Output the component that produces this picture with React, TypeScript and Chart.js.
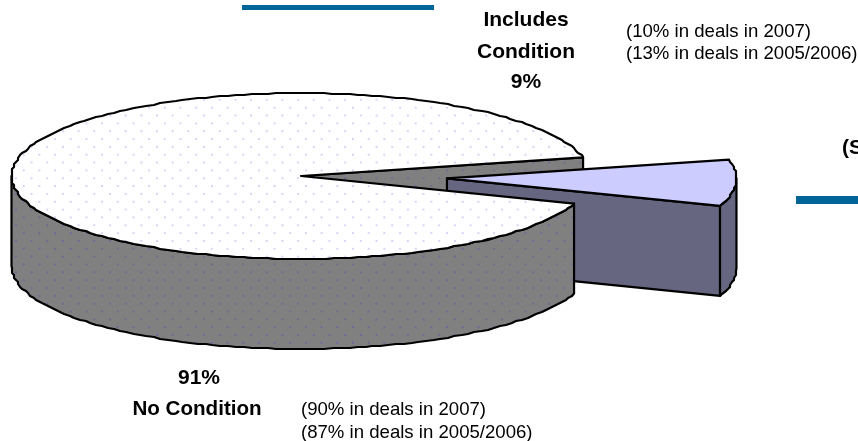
import React, { useEffect, useRef } from "react";
import { Chart, registerables } from "chart.js";

Chart.register(...registerables);

const sliceNames = ["Includes Condition", "No Condition"];
const sliceValues = [9, 91];
const sliceColors = ["#ccccff", "#ffffff"];
const wallColors = ["#666680", "#808080"];
const explodeRatios = [0.505, 0];

const includesLines = ["Includes", "Condition", "9%"];
const includesNotes = ["(10% in deals in 2007)", "(13% in deals in 2005/2006)"];
const noConditionLines = ["91%", "No Condition"];
const noConditionNotes = ["(90% in deals in 2007)", "(87% in deals in 2005/2006)"];
const clippedHeading = "(S";

const CX = 301;
const CY = 176;
const RX = 289.5;
const RY = 83;
const DEPTH = 90;

type Pt = [number, number];

function makePattern(ctx: CanvasRenderingContext2D, color: string) {
  const tile = document.createElement("canvas");
  tile.width = 16;
  tile.height = 16;
  const t = tile.getContext("2d")!;
  t.fillStyle = color;
  t.fillRect(3, 3, 2, 2);
  t.fillRect(11, 11, 2, 2);
  const p = ctx.createPattern(tile, "repeat")!;
  p.setTransform(new DOMMatrix([0.98, 0, 0, 0.98, 106, 237]));
  return p;
}

const pie3dPlugin = {
  id: "pie3d",
  beforeDatasetDraw(chart: any) {
    const ctx: CanvasRenderingContext2D = chart.ctx;
    const arcs = chart.getDatasetMeta(0).data as any[];
    const apex = (i: number): Pt => {
      const mid = (arcs[i].startAngle + arcs[i].endAngle) / 2;
      return [
        CX + RX * explodeRatios[i] * Math.cos(mid),
        CY + RY * explodeRatios[i] * Math.sin(mid),
      ];
    };
    const rim = (i: number, from: number, to: number, dy = 0): Pt[] => {
      const [ax, ay] = apex(i);
      const n = Math.max(1, Math.round(Math.abs(to - from) / 0.028));
      const pts: Pt[] = [];
      for (let k = 0; k <= n; k++) {
        const a = from + ((to - from) * k) / n;
        let x = ax + RX * Math.cos(a);
        let y = ay + RY * Math.sin(a);
        if (k > 0 && k < n) {
          x = Math.round(x / 2) * 2;
          y = Math.round(y);
        }
        pts.push([x, y + dy]);
      }
      return pts;
    };
    const paint = (pts: Pt[], fill: any, pattern?: any, stroke = true) => {
      ctx.beginPath();
      pts.forEach((p, k) => (k ? ctx.lineTo(p[0], p[1]) : ctx.moveTo(p[0], p[1])));
      ctx.closePath();
      if (fill) {
        ctx.fillStyle = fill;
        ctx.fill();
      }
      if (pattern) {
        ctx.fillStyle = pattern;
        ctx.fill();
      }
      if (stroke) {
        ctx.lineWidth = 2.2;
        ctx.lineJoin = "round";
        ctx.strokeStyle = "#000000";
        ctx.stroke();
      }
    };
    const flat = (pts: Pt[], dy: number): Pt[] => pts.map((p) => [p[0], p[1] + dy] as Pt);

    const topDots = makePattern(ctx, "#d4d4fa");
    const wallDots = makePattern(ctx, "#6c6c98");
    const slice = arcs[0];
    const main = arcs[1];

    const mainApex = apex(1);
    const upperEdge = rim(1, main.endAngle, main.endAngle)[0];
    paint(
      [mainApex, upperEdge, [upperEdge[0], upperEdge[1] + DEPTH], [mainApex[0], mainApex[1] + DEPTH]],
      wallColors[1],
      wallDots
    );

    const sliceApex = apex(0);
    const lowerCorner = rim(0, slice.endAngle, slice.endAngle)[0];
    paint(
      [sliceApex, lowerCorner, [lowerCorner[0], lowerCorner[1] + DEPTH], [sliceApex[0], sliceApex[1] + DEPTH]],
      wallColors[0]
    );
    const sliceOuter = rim(0, slice.endAngle, 0);
    paint([...sliceOuter, ...flat(sliceOuter, DEPTH).reverse()], wallColors[0]);

    const mainOuter = rim(1, main.startAngle, Math.PI);
    paint([...mainOuter, ...flat(mainOuter, DEPTH).reverse()], wallColors[1], wallDots);

    arcs.forEach((el, i) => {
      const [ax, ay] = apex(i);
      ctx.save();
      ctx.translate(ax, ay);
      ctx.scale(RX / el.outerRadius, RY / el.outerRadius);
      ctx.translate(-el.x, -el.y);
      el.draw(ctx);
      ctx.restore();
      const outline: Pt[] = [[ax, ay], ...rim(i, el.startAngle, el.endAngle)];
      paint(outline, null, i === 1 ? topDots : null);
    });
    return false;
  },
};

const textBase: React.CSSProperties = {
  position: "absolute",
  margin: 0,
  whiteSpace: "nowrap",
  fontFamily: "'Liberation Sans', Arial, sans-serif",
  color: "#000000",
  lineHeight: "24px",
};

function Label(props: { text: string; x: number; baseline: number; center?: boolean; bold?: boolean; size: number }) {
  const { text, x, baseline, center, bold, size } = props;
  return (
    <div
      style={{
        ...textBase,
        left: x,
        top: baseline - 12 - size * 0.345,
        fontSize: size,
        fontWeight: bold ? 700 : 400,
        transform: center ? "translateX(-50%)" : undefined,
      }}
    >
      {text}
    </div>
  );
}

export default function App() {
  const ref = useRef<HTMLCanvasElement>(null);

  useEffect(() => {
    const chart = new Chart(ref.current!, {
      type: "pie",
      data: {
        labels: sliceNames,
        datasets: [
          {
            data: sliceValues,
            backgroundColor: sliceColors,
            borderWidth: 0,
          },
        ],
      },
      options: {
        responsive: false,
        animation: false,
        rotation: 77,
        layout: { padding: 0 },
        plugins: { legend: { display: false }, tooltip: { enabled: false } },
      },
      plugins: [pie3dPlugin],
    } as any);
    return () => chart.destroy();
  }, []);

  return (
    <div style={{ position: "absolute", left: 0, top: 0, width: 858, height: 441, overflow: "hidden", background: "#ffffff" }}>
      <canvas ref={ref} width={858} height={441} style={{ position: "absolute", left: 0, top: 0 }} />
      <div style={{ position: "absolute", left: 242, top: 5, width: 192, height: 5, background: "#006699" }} />
      <div style={{ position: "absolute", left: 796, top: 196, width: 62, height: 8, background: "#006699" }} />
      <Label text={clippedHeading} x={842} baseline={154} bold size={21} />
      <Label text={includesLines[0]} x={526} baseline={26} center bold size={21} />
      <Label text={includesLines[1]} x={526} baseline={58} center bold size={21} />
      <Label text={includesLines[2]} x={526} baseline={88} center bold size={21} />
      <Label text={includesNotes[0]} x={626} baseline={37} size={18.6} />
      <Label text={includesNotes[1]} x={626} baseline={59} size={18.6} />
      <Label text={noConditionLines[0]} x={199} baseline={384} center bold size={21} />
      <Label text={noConditionLines[1]} x={197} baseline={415} center bold size={20.6} />
      <Label text={noConditionNotes[0]} x={301} baseline={415} size={18.6} />
      <Label text={noConditionNotes[1]} x={301} baseline={438} size={18.6} />
    </div>
  );
}
